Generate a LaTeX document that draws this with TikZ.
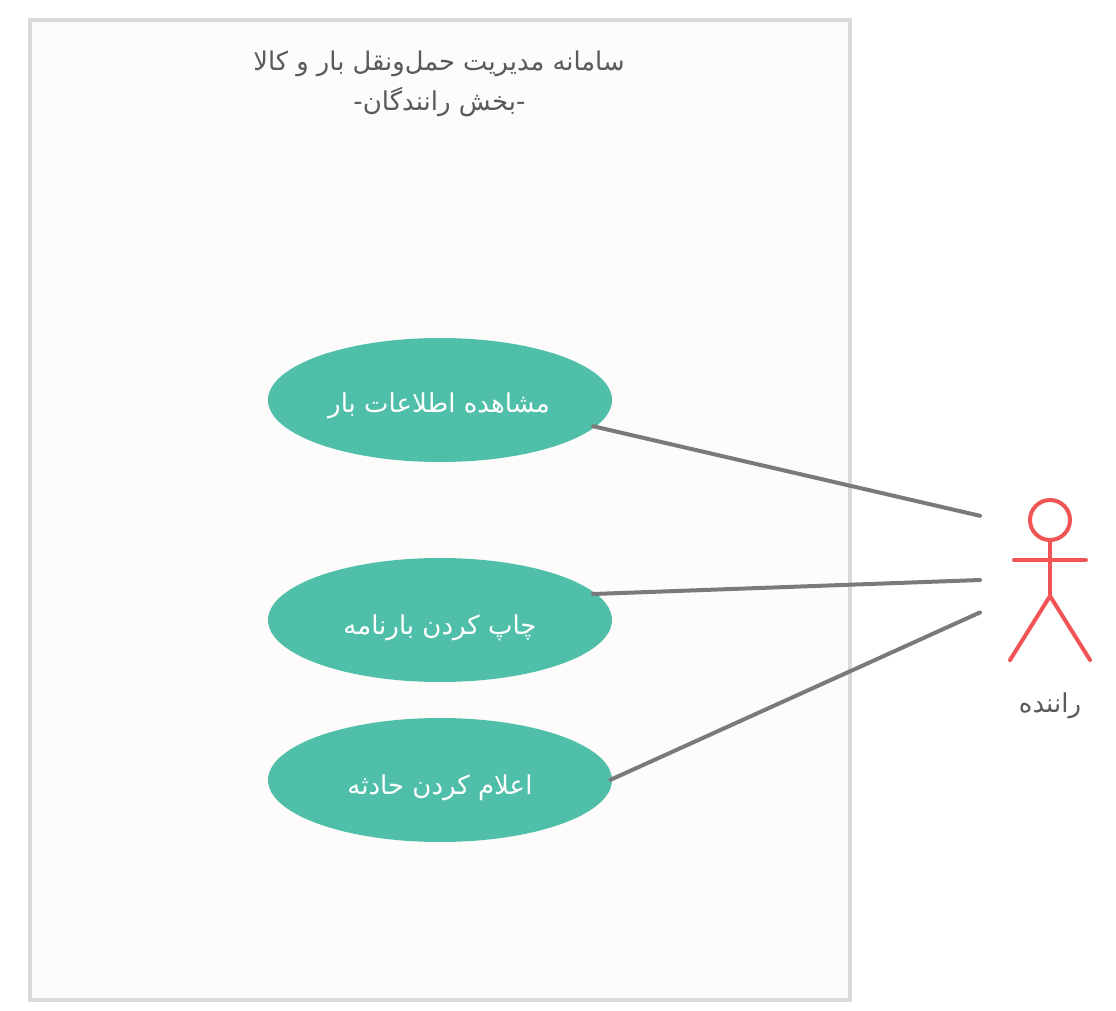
\documentclass[tikz,border=0pt]{standalone}
\usepackage{fontspec}
\TeXXeTstate=1
\newfontfamily\arabicfont[Script=Arabic]{DejaVu Sans}
\definecolor{boxfill}{HTML}{FDFCFB}
\definecolor{boxline}{HTML}{D9D9D9}
\definecolor{usefill}{HTML}{50BFAA}
\definecolor{linkc}{HTML}{7A7A7A}
\definecolor{actorc}{HTML}{F05454}
\definecolor{txt}{HTML}{5A5A5A}
\tikzset{
  x=1pt,y=-1pt,
  sysbox/.style={draw=boxline,fill=boxfill,line width=4pt},
  usecase/.style={ellipse,fill=usefill,minimum width=344pt,minimum height=124pt,inner sep=0pt},
  usetext/.style={anchor=base,text=white,inner sep=0pt,font=\arabicfont\fontsize{26}{26}\selectfont},
  plain/.style={anchor=base,text=txt,inner sep=0pt,font=\arabicfont\fontsize{26}{26}\selectfont},
  link/.style={draw=linkc,line width=4pt,line cap=round},
  actorline/.style={draw=actorc,line width=4pt,line cap=round,line join=round}
}
\usetikzlibrary{shapes.geometric}
\begin{document}
\begin{tikzpicture}
\useasboundingbox (0,0) rectangle (1116,1010);
\node[sysbox,rectangle,minimum width=820pt,minimum height=980pt,inner sep=0pt,outer sep=0pt] (sys) at (440,510) {};
\node[plain,font=\arabicfont\fontsize{25.75}{26}\selectfont] (t1) at (439,70) {\beginR سامانه مدیریت حمل‌ونقل بار و کالا\endR};
\node[plain] (t2) at (439.5,110) {\beginR -بخش رانندگان-\endR};
\node[usecase] (u1) at (440,400) {};
\node[usecase] (u2) at (440,620) {};
\node[usecase] (u3) at (440,780) {};
\node[usetext] (l1) at (439,412) {\beginR مشاهده اطلاعات بار\endR};
\node[usetext] (l2) at (440,634) {\beginR چاپ کردن بارنامه\endR};
\node[usetext] (l3) at (440,794) {\beginR اعلام کردن حادثه\endR};
\node[plain] (al) at (1050,712) {\beginR راننده\endR};
\coordinate (s1) at (593,426.2);
\coordinate (s2) at (593,594);
\coordinate (s3) at (610.5,779.8);
\coordinate (a1) at (980,515.8);
\coordinate (a2) at (980,580);
\coordinate (a3) at (980,612.4);
\draw[link] (s1) -- (a1);
\draw[link] (s2) -- (a2);
\draw[link] (s3) -- (a3);
\node[circle,draw=actorc,line width=4pt,minimum size=40pt,inner sep=0pt,outer sep=0pt] (head) at (1050,520) {};
\coordinate (hip) at (1050,596);
\coordinate (armL) at (1014,560);
\coordinate (armR) at (1086,560);
\coordinate (footL) at (1010,660);
\coordinate (footR) at (1090,660);
\draw[actorline] (head.south) -- (hip);
\draw[actorline] (armL) -- (armR);
\draw[actorline] (footL) -- (hip) -- (footR);
\end{tikzpicture}
\end{document}
